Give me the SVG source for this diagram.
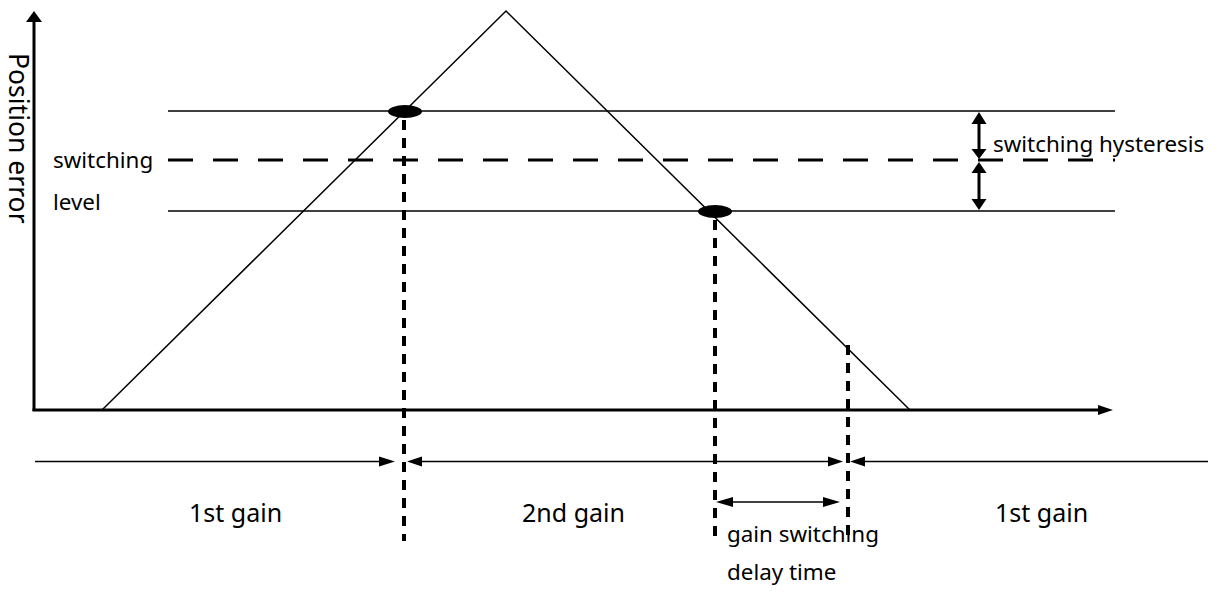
<svg xmlns="http://www.w3.org/2000/svg" width="1216" height="592" viewBox="0 0 1216 592">
<style>
.thin{stroke:#000;stroke-width:1.5;fill:none}
.axis{stroke:#000;stroke-width:3;fill:none}
.vdash{stroke:#000;stroke-width:4;stroke-dasharray:10 8;fill:none}
.hdash{stroke:#000;stroke-width:3;stroke-dasharray:25 20;fill:none}
.head{fill:#000;stroke:none}
text{font-family:"Noto Sans","Open Sans",sans-serif;fill:#000}
.lbl{font-size:22.4px}
.gain{font-size:25px}
</style>
<rect width="1216" height="592" fill="#fff"/>
<g id="axes">
<line class="axis" x1="34" y1="411" x2="34" y2="20"/>
<polygon class="head" points="34,11 26,22 42,22"/>
<line class="axis" x1="32.5" y1="410" x2="1100" y2="410"/>
<polygon class="head" points="1113,410 1098,405 1098,415"/>
</g>
<g id="levels">
<line class="thin" x1="168" y1="111" x2="1115" y2="111"/>
<line class="hdash" x1="168" y1="160" x2="1115" y2="160"/>
<line class="thin" x1="168" y1="211" x2="1115" y2="211"/>
</g>
<g id="triangle">
<polyline class="thin" points="102,410 506,11 910,410"/>
</g>
<g id="points">
<ellipse cx="405" cy="111.5" rx="17" ry="6.5" fill="#000"/>
<ellipse cx="715" cy="211.5" rx="17" ry="6.5" fill="#000"/>
</g>
<g id="connectors">
<line class="vdash" x1="404" y1="120" x2="404" y2="541"/>
<line class="vdash" x1="715" y1="220" x2="715" y2="536"/>
<line class="vdash" x1="848" y1="345" x2="848" y2="541"/>
<line class="axis" x1="979" y1="120" x2="979" y2="152"/>
<polygon class="head" points="979,112 971.5,124 986.5,124"/>
<polygon class="head" points="979,159 971.5,149 986.5,149"/>
<line class="axis" x1="979" y1="170" x2="979" y2="202"/>
<polygon class="head" points="979,162 971.5,173 986.5,173"/>
<polygon class="head" points="979,210 971.5,199 986.5,199"/>
<line class="thin" x1="35" y1="461.5" x2="380" y2="461.5"/>
<polygon class="head" points="395,461.5 379,456.5 379,466.5"/>
<line class="thin" x1="420" y1="461.5" x2="830" y2="461.5"/>
<polygon class="head" points="407,461.5 422,456.5 422,466.5"/>
<polygon class="head" points="843,461.5 828,456.5 828,466.5"/>
<line class="thin" x1="862" y1="461.5" x2="1208" y2="461.5"/>
<polygon class="head" points="850,461.5 865,456.5 865,466.5"/>
<line class="thin" x1="728" y1="502" x2="826" y2="502"/>
<polygon class="head" points="716,502 733,497 733,507"/>
<polygon class="head" points="840,502 823,497 823,507"/>
</g>
<g id="labels">
<text transform="translate(9,53) rotate(90)" style="font-size:26.5px">Position error</text>
<text class="lbl" x="53" y="168">switching</text>
<text class="lbl" x="53" y="210">level</text>
<text class="lbl" x="993" y="152">switching hysteresis</text>
<text class="gain" x="189" y="522">1st gain</text>
<text class="gain" x="522" y="522">2nd gain</text>
<text class="gain" x="995" y="522">1st gain</text>
<text class="lbl" x="727" y="542">gain switching</text>
<text class="lbl" x="727" y="580">delay time</text>
</g>
</svg>
